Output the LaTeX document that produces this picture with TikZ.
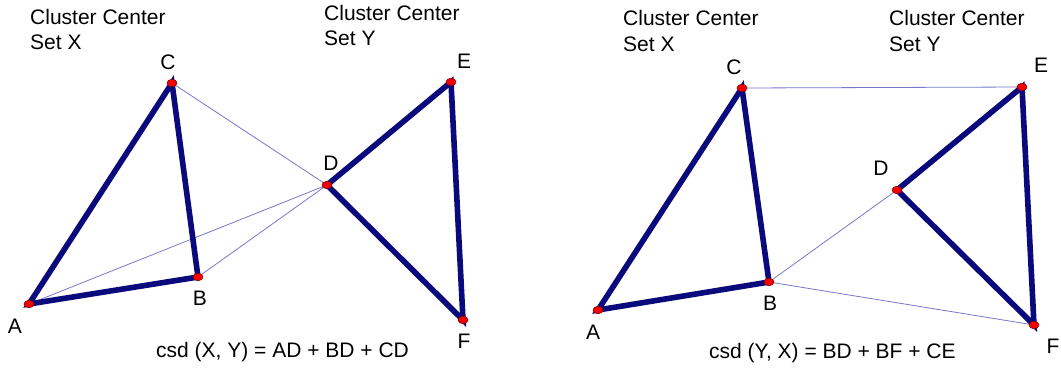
\documentclass[tikz,border=0pt]{standalone}
\usepackage{fontspec}
\setmainfont{Liberation Sans}
\usetikzlibrary{shapes.geometric}
\definecolor{navy}{RGB}{10,10,125}
\definecolor{thinblue}{RGB}{120,120,205}
\definecolor{ptred}{RGB}{245,0,0}
\begin{document}
\begin{tikzpicture}[x=1pt,y=-1pt,
  every node/.style={font=\fontsize{21}{25}\selectfont, inner sep=0pt},
  pt/.style={ellipse, fill=ptred, draw=red!55!black, line width=0.6pt, minimum width=10pt, minimum height=7.5pt},
  thickedge/.style={draw=navy, line width=5.6pt, line cap=round},
  thinedge/.style={draw=thinblue, line width=0.8pt},
  txt/.style={anchor=base west},
  lbl/.style={anchor=center}]
\useasboundingbox (0,0) rectangle (1061,368);
\fill[white] (0,0) rectangle (1061,368);
% ---------- left panel ----------
\coordinate (A1) at (29,304);
\coordinate (B1) at (198,277);
\coordinate (C1) at (172,83);
\coordinate (D1) at (327,185);
\coordinate (E1) at (451,82);
\coordinate (F1) at (463,320);
\path[thinedge] (C1) -- (D1) (A1) -- (D1) (B1) -- (D1);
\path[thickedge] (A1) -- (B1) -- (C1) -- cycle;
\path[thickedge] (D1) -- (E1) -- (F1) -- cycle;
\foreach \p in {A1,B1,C1,D1,E1,F1} \node[pt] (n\p) at (\p) {};
\node[txt] (t1) at (30,24) {Cluster Center};
\node[txt] (t2) at (30,49) {Set X};
\node[txt] (t3) at (324,20) {Cluster Center};
\node[txt] (t4) at (324,45) {Set Y};
\node[lbl] (lA1) at (15,326) {A};
\node[lbl] (lB1) at (200,298) {B};
\node[lbl] (lC1) at (168,62) {C};
\node[lbl] (lD1) at (331,163) {D};
\node[lbl] (lE1) at (464,61) {E};
\node[lbl] (lF1) at (464,341) {F};
\node[txt] (f1) at (156,357) {csd (X, Y) = AD + BD + CD};
% ---------- right panel ----------
\coordinate (A2) at (598,310);
\coordinate (B2) at (769,282);
\coordinate (C2) at (742,88);
\coordinate (D2) at (897,190);
\coordinate (E2) at (1022,87);
\coordinate (F2) at (1034,325);
\path[thinedge] (C2) -- (E2) (B2) -- (D2) (B2) -- (F2);
\path[thickedge] (A2) -- (B2) -- (C2) -- cycle;
\path[thickedge] (D2) -- (E2) -- (F2) -- cycle;
\foreach \p in {A2,B2,C2,D2,E2,F2} \node[pt] (n\p) at (\p) {};
\node[txt] (t5) at (623,25) {Cluster Center};
\node[txt] (t6) at (623,51) {Set X};
\node[txt] (t7) at (889,25) {Cluster Center};
\node[txt] (t8) at (889,51) {Set Y};
\node[lbl] (lA2) at (593,332) {A};
\node[lbl] (lB2) at (770,303) {B};
\node[lbl] (lC2) at (734,67) {C};
\node[lbl] (lD2) at (881,168) {D};
\node[lbl] (lE2) at (1041,65) {E};
\node[lbl] (lF2) at (1053,346) {F};
\node[txt] (f2) at (709,358) {csd (Y, X) = BD + BF + CE};
\end{tikzpicture}
\end{document}
